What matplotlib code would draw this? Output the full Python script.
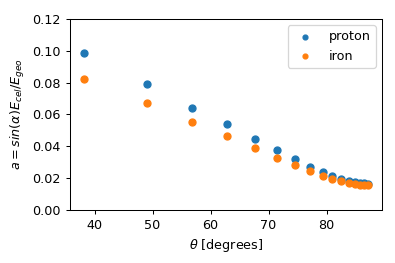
import matplotlib
matplotlib.use("Agg")
import matplotlib.pyplot as plt

# zenith angles and energy fractions
theta = [38.2, 49.1, 56.8, 62.9, 67.7, 71.5, 74.6, 77.2, 79.3, 81.0,
         82.5, 83.8, 84.9, 85.8, 86.5, 87.1]
proton = [0.0984, 0.0790, 0.0643, 0.0538, 0.0446, 0.0377, 0.0320, 0.0272,
          0.0239, 0.0214, 0.0195, 0.0182, 0.0176, 0.0171, 0.0168, 0.0166]
iron = [0.0825, 0.0670, 0.0555, 0.0463, 0.0388, 0.0329, 0.0283, 0.0243,
        0.0216, 0.0195, 0.0180, 0.0170, 0.0164, 0.0160, 0.0157, 0.0155]

dpi = 92
fig = plt.figure(figsize=(395 / dpi, 263 / dpi), dpi=dpi)
ax = fig.add_axes([0.177, 0.2015, 0.79, 0.7265])
ax.scatter(theta, proton, s=30, label='proton')
ax.scatter(theta, iron, s=30, label='iron')
ax.set_ylim(0, 0.12)
ax.set_xlabel(r'$\theta$ [degrees]')
ax.set_ylabel(r'$a = sin(\alpha) E_{cel}/E_{geo}$')
ax.legend(markerscale=0.7)
fig.savefig('out.png', dpi=dpi)
